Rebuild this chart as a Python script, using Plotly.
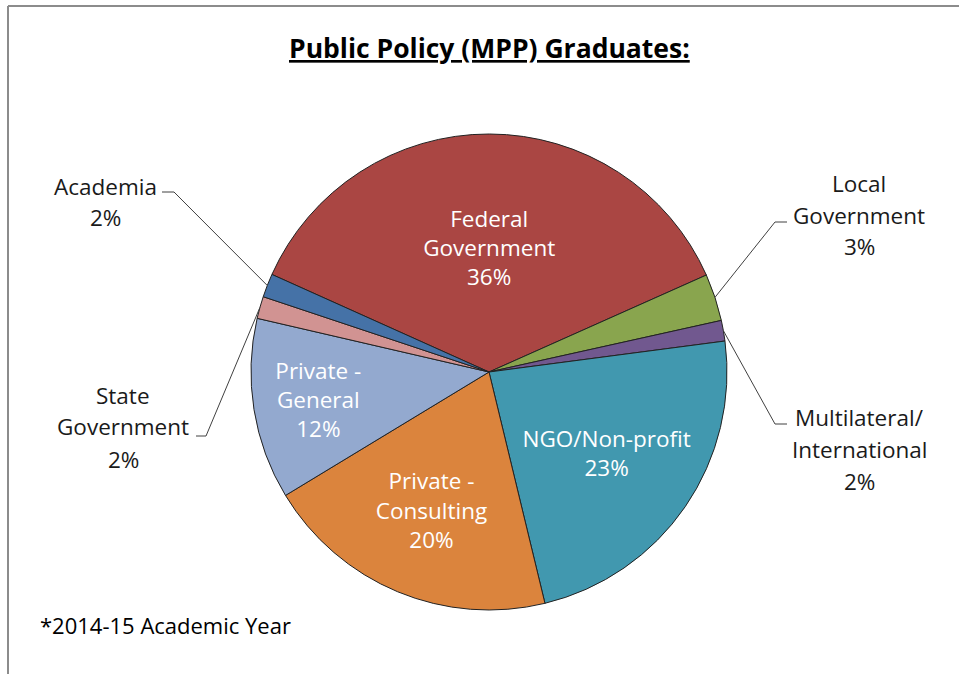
import math
import plotly.graph_objects as go

# ---------------- data ----------------
categories = ["Federal Government", "Local Government", "Multilateral/International",
              "NGO/Non-profit", "Private - Consulting", "Private - General",
              "State Government", "Academia"]
shares = [36.6, 3.2, 1.4, 23.3, 20.1, 12.3, 1.5, 1.6]
pct_labels = ["36%", "3%", "2%", "23%", "20%", "12%", "2%", "2%"]
label_lines = [["Federal", "Government"], ["Local", "Government"],
               ["Multilateral/", "International"], ["NGO/Non-profit"],
               ["Private -", "Consulting"], ["Private -", "General"],
               ["State", "Government"], ["Academia"]]
inside = [True, False, False, True, True, True, False, False]

title_text = "Public Policy (MPP) Graduates:"
footnote_text = "*2014-15 Academic Year"

# ---------------- styles / layout ----------------
W, H = 959, 674
colors = ["#AA4643", "#89A54E", "#71588F", "#4198AF", "#DB843D", "#93A9CF", "#D19392", "#4572A7"]
FONT = "Open Sans, Lato, sans-serif"
FS = 22.5
CX, CY, R = 489, 372, 238          # pie centre / radius in pixels
START_DEG = 294.2                  # first slice start, clockwise from 12 o'clock

# outside label layout: label centre x, first line y, elbow point, tick end (pixels)
outside_layout = {
    "Academia": dict(cx=105, y0=186, elbow=(174, 192), tick=(162, 192)),
    "State Government": dict(cx=123, y0=395, elbow=(206, 436), tick=(196, 436)),
    "Local Government": dict(cx=859, y0=183, elbow=(775, 222), tick=(787, 222)),
    "Multilateral/International": dict(cx=859, y0=417, elbow=(775, 424), tick=(787, 424)),
}
LINE_GAP = 32

def px(x):
    return x / W

def py(y):
    return 1 - y / H

texts = []
for lines, p, ins in zip(label_lines, pct_labels, inside):
    texts.append("<br>".join(lines + [p]) if ins else "")

fig = go.Figure(go.Pie(
    labels=categories,
    values=shares,
    text=texts,
    textinfo="text",
    textposition="inside",
    insidetextorientation="horizontal",
    insidetextfont=dict(family=FONT, size=FS, color="white"),
    sort=False,
    direction="clockwise",
    rotation=START_DEG - 360,
    marker=dict(colors=colors, line=dict(color="#222222", width=1)),
    domain=dict(x=[px(CX - R), px(CX + R)], y=[py(CY + R), py(CY - R)]),
    showlegend=False,
    hoverinfo="label+percent",
))

annotations = []
shapes = []

# outside labels with leader lines (edge point computed from slice mid-angle)
total = sum(shares)
cum = 0.0
for cat, v, lines, p, ins in zip(categories, shares, label_lines, pct_labels, inside):
    mid = START_DEG + (cum + v / 2) / total * 360.0
    cum += v
    if ins:
        continue
    lay = outside_layout[cat]
    for i, t in enumerate(lines + [p]):
        annotations.append(dict(
            x=px(lay["cx"]), y=py(lay["y0"] + i * LINE_GAP), xref="paper", yref="paper",
            text=t, showarrow=False, xanchor="center", yanchor="middle",
            font=dict(family=FONT, size=FS, color="#1a1a1a")))
    th = math.radians(mid)
    ex, ey = CX + R * math.sin(th), CY - R * math.cos(th)
    (bx, by), (tx, ty) = lay["elbow"], lay["tick"]
    shapes.append(dict(
        type="path", xref="paper", yref="paper",
        path=f"M {px(ex)} {py(ey)} L {px(bx)} {py(by)} L {px(tx)} {py(ty)}",
        line=dict(color="#404040", width=1)))

# title
annotations.append(dict(
    x=px(489), y=py(48), xref="paper", yref="paper", text=title_text, showarrow=False,
    xanchor="center", yanchor="middle",
    font=dict(family=FONT, size=26.5, color="black", weight="bold", lineposition="under")))

# footnote
annotations.append(dict(
    x=px(38), y=py(625), xref="paper", yref="paper", text=footnote_text, showarrow=False,
    xanchor="left", yanchor="middle",
    font=dict(family=FONT, size=22, color="black")))

# chart-area frame (top and left edges visible)
shapes.append(dict(type="line", xref="paper", yref="paper", x0=px(8), x1=1.0, y0=py(6), y1=py(6),
                   line=dict(color="#8c8c8c", width=2)))
shapes.append(dict(type="line", xref="paper", yref="paper", x0=px(8), x1=px(8), y0=py(6), y1=0.0,
                   line=dict(color="#8c8c8c", width=2)))

fig.update_layout(
    width=W, height=H,
    margin=dict(l=0, r=0, t=0, b=0),
    paper_bgcolor="white", plot_bgcolor="white",
    annotations=annotations, shapes=shapes,
    font=dict(family=FONT),
)

fig.write_html("out.html",
               config={"displayModeBar": False},
               post_script="document.body.style.margin='0';document.body.style.padding='0';")
